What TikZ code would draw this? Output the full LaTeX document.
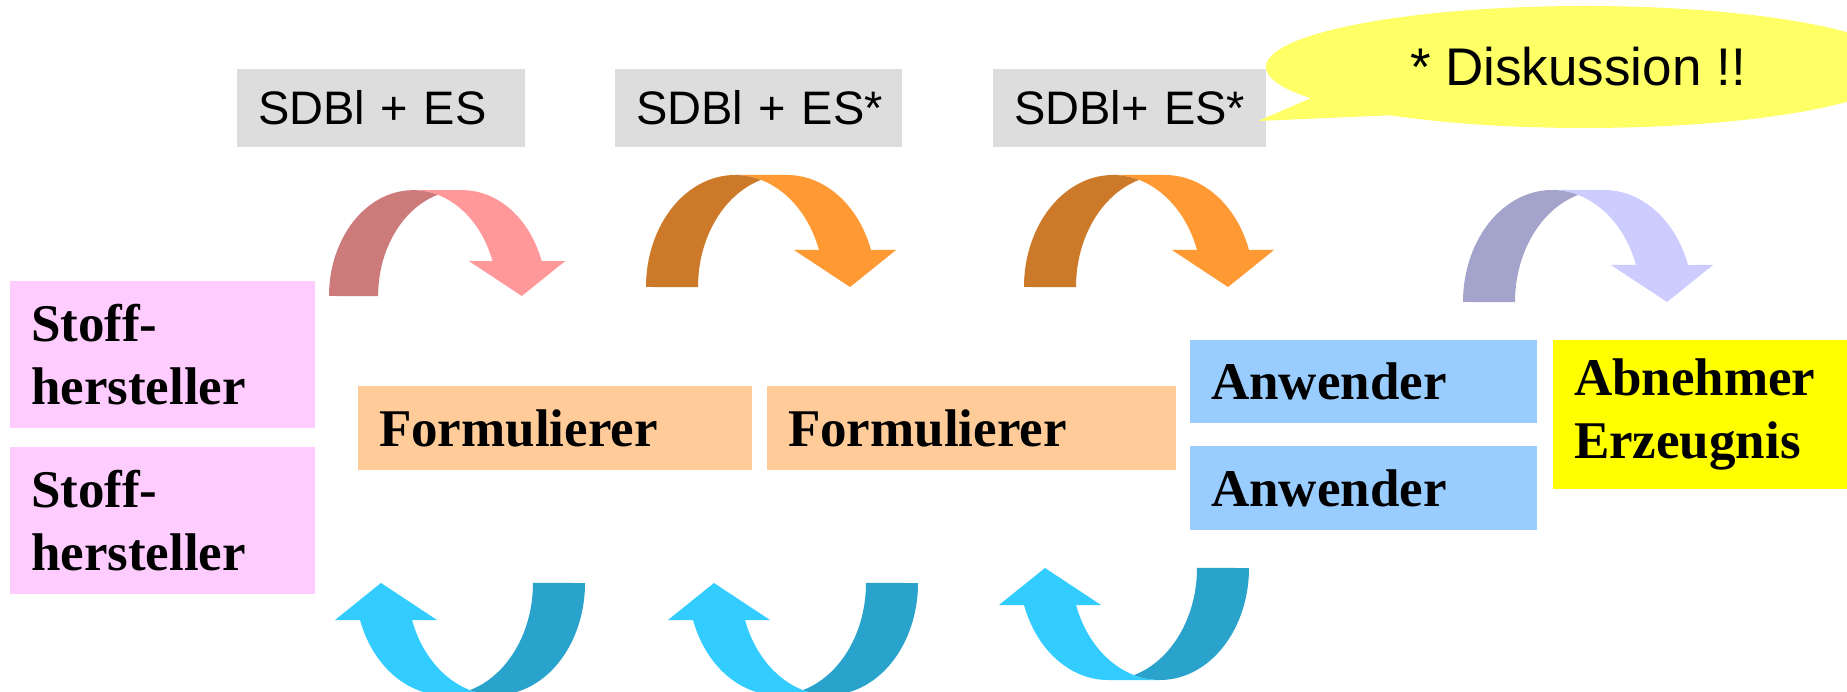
\documentclass[tikz,border=0pt]{standalone}
\usepackage{fontspec}
\setmainfont{Liberation Serif}
\newfontfamily\arialfont{Liberation Sans}
\definecolor{stoffpink}{HTML}{FFCCFF}
\definecolor{formorange}{HTML}{FFCC99}
\definecolor{anwblue}{HTML}{99CCFF}
\definecolor{abnyellow}{HTML}{FFFF00}
\definecolor{sdbgray}{HTML}{DDDDDD}
\definecolor{bubbleyellow}{HTML}{FFFF66}
\definecolor{pinkdark}{HTML}{CC7A7A}
\definecolor{pinklight}{HTML}{FF9999}
\definecolor{orangedark}{HTML}{CC7A29}
\definecolor{orangelight}{HTML}{FF9933}
\definecolor{lavdark}{HTML}{A3A3CC}
\definecolor{lavlight}{HTML}{CCCCFF}
\definecolor{cyandark}{HTML}{29A3CC}
\definecolor{cyanlight}{HTML}{33CCFF}
% curved arrow in local units: left foot outer corner at origin, local y up
\newcommand{\curvedarrowshape}[2]{%
  \fill[#2] (204,0) -- (148,37) -- (173.0,37)
     arc[start angle=19.29, end angle=90, x radius=89, y radius=112]
     -- (141,112)
     arc[start angle=90, end angle=19.29, x radius=89, y radius=112]
     -- (250,37) -- cycle;
  \fill[#1] (115,107.1)
     arc[start angle=106.99, end angle=180, x radius=89, y radius=112]
     -- (0,0)
     arc[start angle=180, end angle=73.01, x radius=89, y radius=112]
     -- cycle;
}
\begin{document}
\begin{tikzpicture}[x=1pt,y=-1pt,
  box/.style={inner xsep=21pt, inner ysep=0pt, align=left, anchor=center,
    font=\bfseries\fontsize{53}{63}\selectfont},
  sdbbox/.style={fill=sdbgray, inner xsep=21pt, inner ysep=0pt, align=left,
    anchor=center, minimum height=78pt,
    font=\arialfont\fontsize{47}{56}\selectfont},
  toparrow/.style={xscale=#1, yscale=-#1},
  botarrow/.style={xscale=-1, yscale=1}]
\useasboundingbox (0,0) rectangle (1847,692);
\fill[white] (0,0) rectangle (1847,692);

% boxes
\node[box, fill=stoffpink, text width=263pt, minimum height=147pt] (s1) at (162.5,354.5) {Stoff-\\hersteller};
\node[box, fill=stoffpink, text width=263pt, minimum height=147pt] (s2) at (162.5,520.5) {Stoff-\\hersteller};
\node[box, fill=formorange, text width=352pt, minimum height=84pt] (f1) at (555,428) {Formulierer};
\node[box, fill=formorange, text width=367pt, minimum height=84pt] (f2) at (971.5,428) {Formulierer};
\node[box, fill=anwblue, text width=305pt, minimum height=83pt] (a1) at (1363.5,381.5) {Anwender};
\node[box, fill=anwblue, text width=305pt, minimum height=84pt] (a2) at (1363.5,488) {Anwender};
\node[box, fill=abnyellow, text width=252pt, minimum height=149pt] (ab) at (1700,414.5) {Abnehmer\\Erzeugnis};

% SDBl labels
\node[sdbbox, text width=246pt] (g1) at (381,108) {\mbox{SDBl + ES}};
\node[sdbbox, text width=245pt] (g2) at (758.5,108) {\mbox{SDBl + ES*}};
\node[sdbbox, text width=231pt] (g3) at (1129.5,108) {\mbox{SDBl+ ES*}};

% speech bubble
\fill[bubbleyellow] (1585,67) ellipse [x radius=319, y radius=61];
\fill[bubbleyellow] (1258,121) -- (1330,90) -- (1420,114) -- cycle;
\node[font=\arialfont\fontsize{53}{64}\selectfont, inner sep=0pt] (disk) at (1578,67) {* Diskussion !!};

% top curved arrows
\begin{scope}[shift={(329,296)}, toparrow=0.945]
  \curvedarrowshape{pinkdark}{pinklight}
\end{scope}
\begin{scope}[shift={(646,287)}, toparrow=1]
  \curvedarrowshape{orangedark}{orangelight}
\end{scope}
\begin{scope}[shift={(1024,287)}, toparrow=1]
  \curvedarrowshape{orangedark}{orangelight}
\end{scope}
\begin{scope}[shift={(1463,302)}, toparrow=1]
  \curvedarrowshape{lavdark}{lavlight}
\end{scope}

% bottom curved arrows
\begin{scope}[shift={(585,583)}, botarrow]
  \curvedarrowshape{cyandark}{cyanlight}
\end{scope}
\begin{scope}[shift={(918,583)}, botarrow]
  \curvedarrowshape{cyandark}{cyanlight}
\end{scope}
\begin{scope}[shift={(1249,568)}, botarrow]
  \curvedarrowshape{cyandark}{cyanlight}
\end{scope}
\end{tikzpicture}
\end{document}
